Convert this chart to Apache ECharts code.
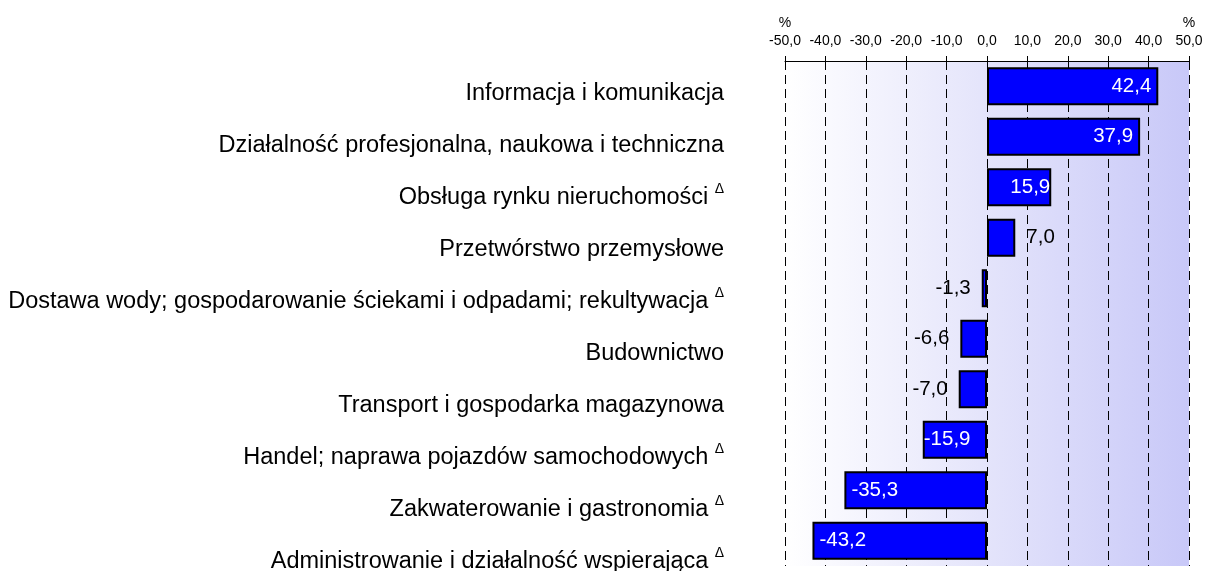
<!DOCTYPE html>
<html>
<head>
<meta charset="utf-8">
<script src="https://cdn.jsdelivr.net/npm/echarts@6/dist/echarts.min.js"></script>
<style>
  html, body { margin: 0; padding: 0; background: #fff; }
  #chart { width: 1206px; height: 571px; }
</style>
</head>
<body>
<div id="chart"></div>
<script>
// sekcje (od góry), wartości w %, znacznik Δ
const categories = [
    'Informacja i komunikacja',
    'Działalność profesjonalna, naukowa i techniczna',
    'Obsługa rynku nieruchomości',
    'Przetwórstwo przemysłowe',
    'Dostawa wody; gospodarowanie ściekami i odpadami; rekultywacja',
    'Budownictwo',
    'Transport i gospodarka magazynowa',
    'Handel; naprawa pojazdów samochodowych',
    'Zakwaterowanie i gastronomia',
    'Administrowanie i działalność wspierająca'
];
const delta = [false, false, true, false, true, false, false, true, true, true];
const values = [42.4, 37.9, 15.9, 7.0, -1.3, -6.6, -7.0, -15.9, -35.3, -43.2];
const axisMin = -50;
const axisMax = 50;
const axisStep = 10;

const fmt = v => v.toFixed(1).replace('.', ',');
const font = 'Liberation Sans, Arial, sans-serif';

let chart = echarts.init(document.getElementById('chart'));

// etykiety słupków: długie w środku (białe), krótkie na zewnątrz (czarne)
let barData = values.map(v => {
    let inside = Math.abs(v) >= 15;
    let pos = inside ? (v > 0 ? 'insideRight' : 'insideLeft') : (v > 0 ? 'right' : 'left');
    return {
        value: v,
        label: {
            position: pos,
            color: inside ? '#fff' : '#000',
            distance: inside ? (Math.abs(v) < 20 ? 1 : 7) : 11
        }
    };
});

let labelNames = categories.map((c, i) => delta[i] ? '{t|' + c + '} {s|Δ}' : '{t|' + c + '}');

let option = {
    animation: false,
    textStyle: { fontFamily: font },
    grid: [
        {
            left: 785, right: 17, top: 61, bottom: 5,
            outerBoundsMode: 'none',
            show: true,
            borderWidth: 0,
            backgroundColor: new echarts.graphic.LinearGradient(0, 0, 1, 0, [
                { offset: 0, color: '#ffffff' },
                { offset: 0.5, color: '#e4e4fb' },
                { offset: 1, color: '#c8c8f8' }
            ])
        },
        { left: 785, right: 17, top: 68, bottom: -17, outerBoundsMode: 'none' }
    ],
    xAxis: [
        {
            type: 'value',
            gridIndex: 0,
            position: 'top',
            min: axisMin,
            max: axisMax,
            interval: axisStep,
            axisLine: { show: true, lineStyle: { color: '#000', width: 1 } },
            axisTick: { show: true, length: 5, lineStyle: { color: '#000' } },
            axisLabel: {
                margin: 13,
                fontSize: 14,
                color: '#000',
                fontFamily: font,
                formatter: v => (v === axisMin || v === axisMax) ? '{p|%}\n' + fmt(v) : fmt(v),
                rich: { p: { fontSize: 14, color: '#000', fontFamily: font, lineHeight: 21 } }
            },
            splitLine: { show: true, lineStyle: { color: '#000', width: 1, type: [9, 5] } }
        },
        { type: 'value', gridIndex: 1, min: 0, max: 1, show: false }
    ],
    yAxis: [
        {
            type: 'category',
            gridIndex: 0,
            inverse: true,
            data: categories,
            axisLine: { show: false },
            axisTick: { show: false },
            axisLabel: { show: false },
            splitLine: { show: false }
        },
        {
            type: 'category',
            gridIndex: 1,
            inverse: true,
            data: labelNames,
            axisLine: { show: false },
            axisTick: { show: false },
            splitLine: { show: false },
            axisLabel: {
                margin: 61,
                color: '#000',
                rich: {
                    t: { fontSize: 23.5, color: '#000', fontFamily: font },
                    s: { fontSize: 14, color: '#000', fontFamily: font, padding: [0, 0, 18, 3] }
                }
            }
        }
    ],
    series: [
        {
            type: 'bar',
            xAxisIndex: 0,
            yAxisIndex: 0,
            data: barData,
            barCategoryGap: '25%',
            itemStyle: { color: '#0000ff', borderColor: '#000', borderWidth: 2 },
            label: {
                show: true,
                fontSize: 20.5,
                fontFamily: font,
                formatter: p => fmt(p.value)
            }
        }
    ]
};

option && chart.setOption(option);
</script>
</body>
</html>
